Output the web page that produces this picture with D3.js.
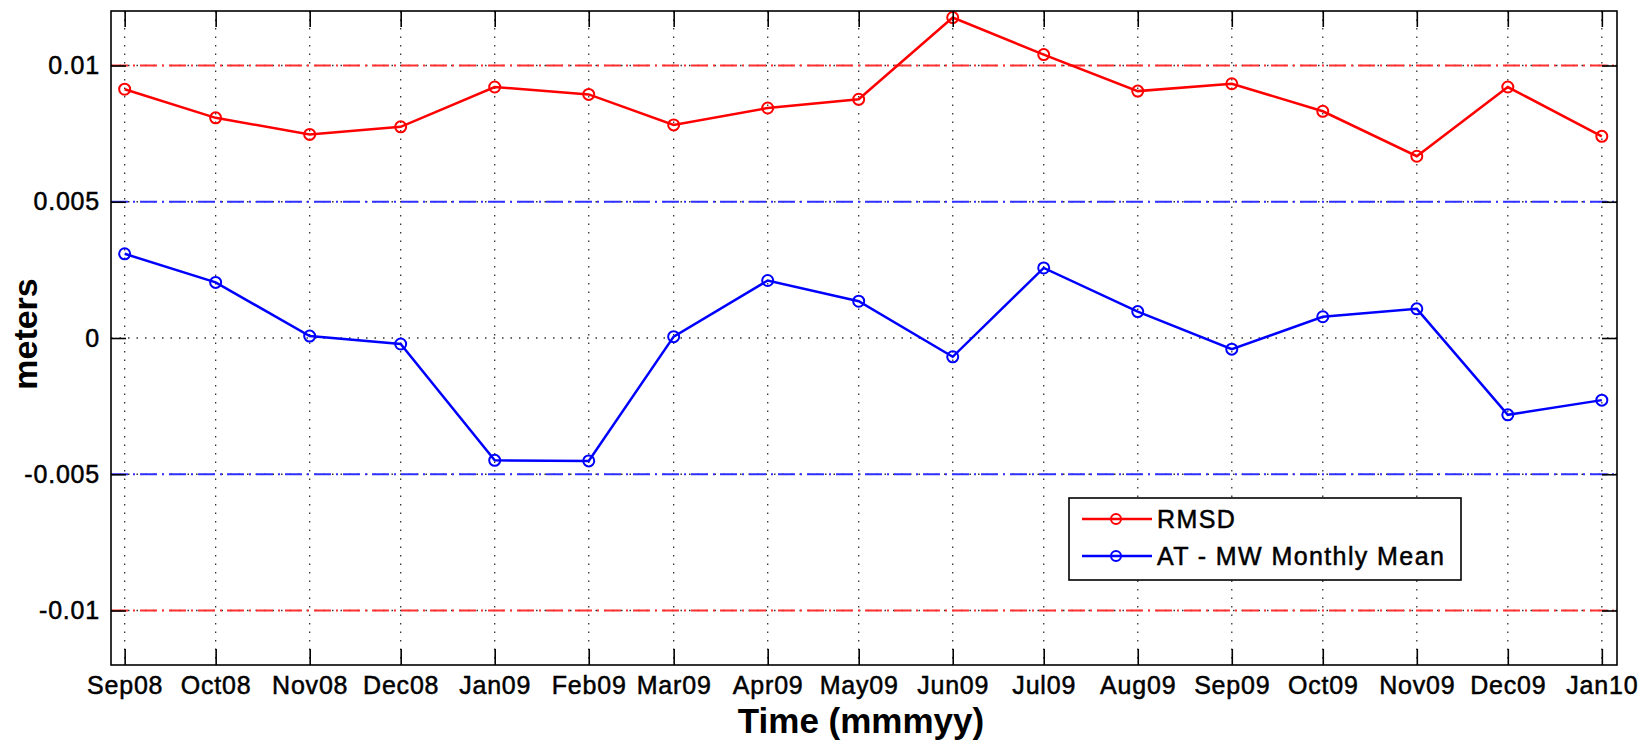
<!DOCTYPE html>
<html>
<head>
<meta charset="utf-8">
<script src="https://cdn.jsdelivr.net/npm/d3@7"></script>
<style>
  body { margin: 0; background: #fff; }
  svg { display: block; font-family: "Liberation Sans", Arial, Helvetica, sans-serif; }
</style>
</head>
<body>
<div id="chart"></div>
<script>
// months on the x axis (first day of each month)
var months = ["Sep08","Oct08","Nov08","Dec08","Jan09","Feb09","Mar09","Apr09","May09",
              "Jun09","Jul09","Aug09","Sep09","Oct09","Nov09","Dec09","Jan10"];
var monthDates = [[2008,8],[2008,9],[2008,10],[2008,11],[2009,0],[2009,1],[2009,2],[2009,3],[2009,4],
                  [2009,5],[2009,6],[2009,7],[2009,8],[2009,9],[2009,10],[2009,11],[2010,0]];

var rmsd = [0.00913, 0.00808, 0.00747, 0.00775, 0.00921, 0.00894, 0.00782, 0.00844, 0.00876,
            0.01176, 0.01040, 0.00906, 0.00933, 0.00832, 0.00667, 0.00921, 0.00740];
var meanDiff = [0.00309, 0.00204, 0.00007, -0.00022, -0.00449, -0.00451, 0.00005, 0.00211, 0.00135,
                -0.00069, 0.00257, 0.00097, -0.00041, 0.00078, 0.00107, -0.00282, -0.00228];

var yTicks = [0.01, 0.005, 0, -0.005, -0.01];
var yTickLabels = ["0.01", "0.005", "0", "-0.005", "-0.01"];
var refRed = [0.01, -0.01];
var refBlue = [0.005, -0.005];
var seriesNames = ["RMSD", "AT - MW Monthly Mean"];
var seriesColors = ["#ff0000", "#0000ff"];

var WIDTH = 1641, HEIGHT = 742;
var margin = {left: 111, top: 11, right: 24, bottom: 77};
var w = WIDTH - margin.left - margin.right,
    h = HEIGHT - margin.top - margin.bottom;

var dates = monthDates.map(function(d){ return new Date(d[0], d[1], 1); });

var x = d3.scaleTime()
    .domain([new Date(2008, 7, 27, 12), new Date(2010, 0, 6)])
    .range([0, w]);
var y = d3.scaleLinear()
    .domain([-0.012, 0.012])
    .range([h, 0]);

var svg = d3.select("#chart").append("svg")
    .attr("width", WIDTH)
    .attr("height", HEIGHT);

var g = svg.append("g")
    .attr("transform", "translate(" + margin.left + "," + margin.top + ")");

// dotted grid
g.append("g").selectAll("line")
    .data(dates)
    .enter().append("line")
    .attr("x1", function(d){ return x(d); })
    .attr("x2", function(d){ return x(d); })
    .attr("y1", 0).attr("y2", h)
    .attr("stroke", "#333").attr("stroke-width", 1.3)
    .attr("stroke-dasharray", "1.5,7");
g.append("g").selectAll("line")
    .data(yTicks)
    .enter().append("line")
    .attr("x1", 0).attr("x2", w)
    .attr("y1", function(d){ return y(d); })
    .attr("y2", function(d){ return y(d); })
    .attr("stroke", "#333").attr("stroke-width", 1.3)
    .attr("stroke-dasharray", "1.5,7");

// dash-dot reference lines
function refLines(vals, color){
  g.append("g").selectAll("line")
    .data(vals)
    .enter().append("line")
    .attr("x1", 0).attr("x2", w)
    .attr("y1", function(d){ return y(d); })
    .attr("y2", function(d){ return y(d); })
    .attr("stroke", color).attr("stroke-width", 2)
    .attr("stroke-dasharray", "17,5,2,5");
}
refLines(refRed, "#ff3030");
refLines(refBlue, "#3030ff");

// series
var line = d3.line()
    .x(function(d, i){ return x(dates[i]); })
    .y(function(d){ return y(d); });

[rmsd, meanDiff].forEach(function(vals, k){
  g.append("path")
    .datum(vals)
    .attr("d", line)
    .attr("fill", "none")
    .attr("stroke", seriesColors[k])
    .attr("stroke-width", 2.5);
  g.append("g").selectAll("circle")
    .data(vals)
    .enter().append("circle")
    .attr("cx", function(d, i){ return x(dates[i]); })
    .attr("cy", function(d){ return y(d); })
    .attr("r", 5.5)
    .attr("fill", "none")
    .attr("stroke", seriesColors[k])
    .attr("stroke-width", 2);
});

// axes, MATLAB style box with inward ticks
var tickFont = 25;
var xAxis = d3.axisBottom(x).tickValues(dates)
    .tickFormat(function(d, i){ return months[i]; })
    .tickSizeInner(-16).tickSizeOuter(0).tickPadding(11);
var yAxis = d3.axisLeft(y).tickValues(yTicks)
    .tickFormat(function(d, i){ return yTickLabels[i]; })
    .tickSizeInner(-15).tickSizeOuter(0).tickPadding(11);

var gx = g.append("g").attr("transform", "translate(0," + h + ")").call(xAxis);
var gy = g.append("g").call(yAxis);
g.append("g").call(d3.axisTop(x).tickValues(dates).tickFormat("").tickSizeInner(-16).tickSizeOuter(0));
g.append("g").attr("transform", "translate(" + w + ",0)")
    .call(d3.axisRight(y).tickValues(yTicks).tickFormat("").tickSizeInner(-15).tickSizeOuter(0));

g.selectAll(".domain").remove();
g.selectAll(".tick line").attr("stroke", "#000").attr("stroke-width", 1.6);
[gx, gy].forEach(function(a){
  a.selectAll("text")
    .attr("fill", "#000")
    .attr("stroke", "#000").attr("stroke-width", 0.5)
    .style("font-size", tickFont + "px")
    .style("letter-spacing", "0.8px");
});

g.append("rect")
    .attr("x", 0).attr("y", 0)
    .attr("width", w).attr("height", h)
    .attr("fill", "none").attr("stroke", "#000").attr("stroke-width", 1.6);

// axis titles
svg.append("text")
    .attr("x", margin.left + w / 2 - 3)
    .attr("y", 733)
    .attr("text-anchor", "middle")
    .style("font-size", "35px").style("font-weight", "bold")
    .text("Time (mmmyy)");
svg.append("text")
    .attr("transform", "translate(37,334)rotate(-90)")
    .attr("text-anchor", "middle")
    .style("font-size", "34px").style("font-weight", "bold")
    .text("meters");

// legend
var lg = svg.append("g").attr("transform", "translate(1069,498)");
lg.append("rect")
    .attr("width", 392).attr("height", 82)
    .attr("fill", "#fff").attr("stroke", "#000").attr("stroke-width", 1.6);
seriesNames.forEach(function(name, k){
  var ly = 21 + k * 37;
  lg.append("line")
    .attr("x1", 13).attr("x2", 83)
    .attr("y1", ly).attr("y2", ly)
    .attr("stroke", seriesColors[k]).attr("stroke-width", 2.5);
  lg.append("circle")
    .attr("cx", 47).attr("cy", ly).attr("r", 5)
    .attr("fill", "none").attr("stroke", seriesColors[k]).attr("stroke-width", 2);
  lg.append("text")
    .attr("x", 88).attr("y", ly)
    .attr("dy", "0.35em")
    .attr("stroke", "#000").attr("stroke-width", 0.5)
    .style("font-size", "25px")
    .style("letter-spacing", "1.4px")
    .text(name);
});
</script>
</body>
</html>
